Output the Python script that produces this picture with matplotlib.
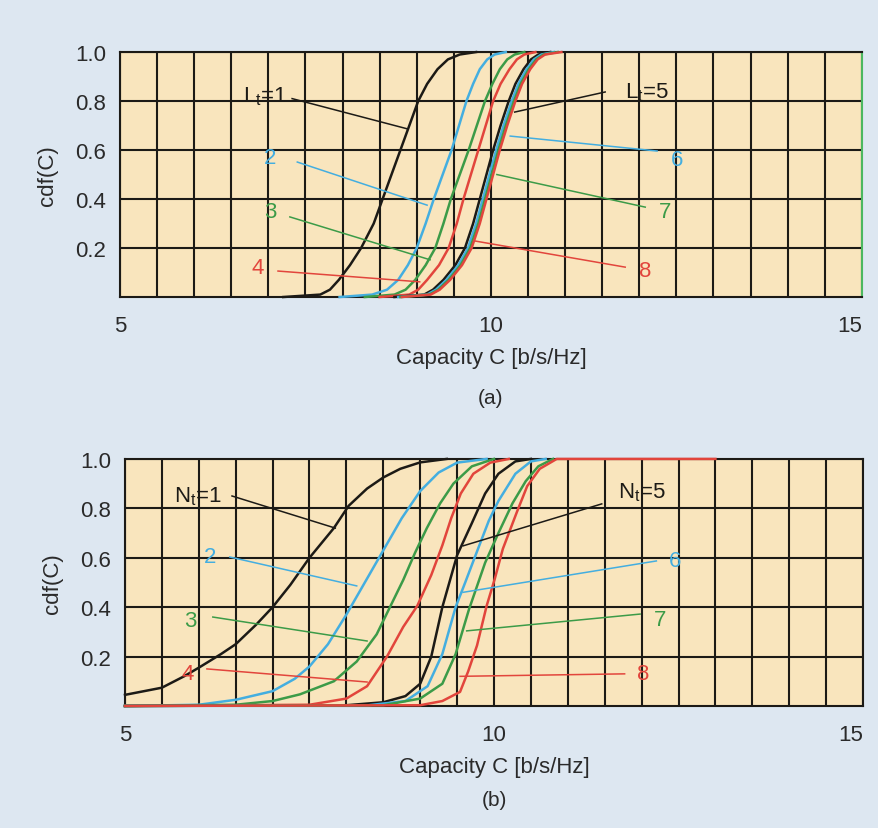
import matplotlib
matplotlib.use("Agg")
import matplotlib.pyplot as plt
import numpy as np

plt.rcParams['font.family'] = ['Liberation Sans', 'DejaVu Sans']
plt.rcParams['mathtext.fontset'] = 'custom'
plt.rcParams['mathtext.rm'] = 'Liberation Sans'

# couleurs des courbes
black = "#1c1a16"
cyan = "#44aee0"
green = "#3c9b48"
red = "#e2453c"

# ---- (a) : cdf pour L_t = 1..8, capacité lue à des niveaux de cdf communs
levels_a = [0, 0.01, 0.03, 0.07, 0.13, 0.2, 0.3, 0.4, 0.5, 0.6, 0.7, 0.8, 0.87, 0.93, 0.97, 0.99, 1.0]
lt1 = [7.2, 7.7, 7.83, 7.95, 8.1, 8.25, 8.42, 8.54, 8.66, 8.78, 8.9, 9.02, 9.14, 9.28, 9.42, 9.58, 9.8]
lt2 = [7.96, 8.4, 8.6, 8.75, 8.88, 9.0, 9.12, 9.23, 9.35, 9.47, 9.57, 9.67, 9.76, 9.85, 9.95, 10.05, 10.2]
lt3 = [8.3, 8.7, 8.85, 8.98, 9.12, 9.25, 9.36, 9.46, 9.58, 9.70, 9.81, 9.92, 10.02, 10.12, 10.22, 10.32, 10.45]
lt4 = [8.5, 8.9, 9.02, 9.14, 9.3, 9.43, 9.54, 9.63, 9.73, 9.83, 9.93, 10.03, 10.13, 10.25, 10.35, 10.45, 10.6]
lt5 = [8.7, 9.1, 9.22, 9.36, 9.52, 9.65, 9.76, 9.85, 9.94, 10.03, 10.13, 10.24, 10.33, 10.44, 10.54, 10.64, 10.8]
lt6 = [8.75, 9.14, 9.26, 9.4, 9.56, 9.69, 9.8, 9.89, 9.98, 10.07, 10.17, 10.28, 10.37, 10.48, 10.58, 10.68, 10.85]
lt7 = [8.78, 9.17, 9.29, 9.43, 9.59, 9.72, 9.83, 9.92, 10.01, 10.10, 10.20, 10.31, 10.40, 10.51, 10.61, 10.71, 10.9]
lt8 = [8.8, 9.19, 9.31, 9.45, 9.61, 9.74, 9.85, 9.94, 10.03, 10.12, 10.22, 10.33, 10.42, 10.53, 10.63, 10.73, 10.95]

# ---- (b) : cdf pour N_t = 1..8
nt1_c = [5.0, 5.5, 5.8, 6.0, 6.3, 6.5, 6.78, 7.0, 7.24, 7.5, 7.83, 8.03, 8.28, 8.5, 8.73, 9.0, 9.36]
nt1_p = [0.045, 0.074, 0.12, 0.155, 0.21, 0.25, 0.33, 0.40, 0.49, 0.60, 0.72, 0.81, 0.88, 0.925, 0.96, 0.986, 1.0]
nt2_c = [5.0, 6.0, 6.5, 7.0, 7.3, 7.5, 7.75, 8.0, 8.25, 8.5, 8.75, 9.0, 9.25, 9.5, 9.9]
nt2_p = [0.0, 0.005, 0.025, 0.06, 0.11, 0.16, 0.25, 0.37, 0.5, 0.63, 0.76, 0.87, 0.945, 0.985, 1.0]
nt3_c = [5.0, 6.5, 7.0, 7.37, 7.83, 8.14, 8.41, 8.59, 8.77, 8.93, 9.09, 9.27, 9.45, 9.7, 10.0]
nt3_p = [0.0, 0.005, 0.02, 0.047, 0.10, 0.18, 0.29, 0.40, 0.51, 0.62, 0.72, 0.82, 0.90, 0.97, 1.0]
nt4_c = [5.0, 7.5, 8.0, 8.28, 8.55, 8.77, 8.96, 9.15, 9.3, 9.42, 9.55, 9.72, 9.95, 10.2]
nt4_p = [0.0, 0.005, 0.03, 0.08, 0.2, 0.32, 0.405, 0.53, 0.65, 0.76, 0.86, 0.94, 0.985, 1.0]
nt5_c = [5.0, 8.0, 8.5, 8.8, 9.0, 9.15, 9.3, 9.5, 9.7, 9.88, 10.06, 10.29, 10.5]
nt5_p = [0.0, 0.003, 0.015, 0.04, 0.09, 0.2, 0.4, 0.61, 0.74, 0.86, 0.94, 0.99, 1.0]
nt6_c = [5.0, 8.3, 8.8, 9.1, 9.3, 9.48, 9.61, 9.75, 9.93, 10.06, 10.29, 10.5, 10.7]
nt6_p = [0.0, 0.003, 0.02, 0.08, 0.21, 0.40, 0.5, 0.61, 0.75, 0.83, 0.94, 0.99, 1.0]
nt7_c = [5.0, 8.5, 9.0, 9.3, 9.48, 9.66, 9.88, 10.06, 10.25, 10.43, 10.6, 10.8]
nt7_p = [0.0, 0.003, 0.03, 0.09, 0.21, 0.39, 0.58, 0.70, 0.82, 0.91, 0.97, 1.0]
nt8_c = [5.0, 9.0, 9.3, 9.54, 9.65, 9.77, 9.9, 10.01, 10.12, 10.31, 10.45, 10.62, 10.85, 13.0]
nt8_p = [0.0, 0.003, 0.02, 0.057, 0.14, 0.245, 0.405, 0.514, 0.636, 0.785, 0.89, 0.96, 1.0, 1.0]

colors = [black, cyan, green, red, black, cyan, green, red]

# étiquettes : texte, position du texte, début et fin du trait
labels_a = [r"L$_\mathrm{t}$=1", "2", "3", "4", r"L$_\mathrm{t}$=5", "6", "7", "8"]
text_a = [(6.95, 0.82), (7.02, 0.57), (7.02, 0.35), (6.86, 0.12), (12.1, 0.84), (12.51, 0.56), (12.35, 0.35), (12.08, 0.11)]
line_a = [((7.32, 0.81), (8.88, 0.686)), ((7.39, 0.551), (9.14, 0.375)), ((7.29, 0.327), (9.18, 0.152)),
          ((7.13, 0.106), (9.04, 0.062)), ((11.54, 0.837), (10.32, 0.755)), ((12.24, 0.596), (10.26, 0.657)),
          ((12.08, 0.367), (10.08, 0.50)), ((11.81, 0.122), (9.78, 0.229))]
labels_b = [r"N$_\mathrm{t}$=1", "2", "3", "4", r"N$_\mathrm{t}$=5", "6", "7", "8"]
text_b = [(5.99, 0.85), (6.15, 0.607), (5.88, 0.344), (5.85, 0.13), (12.0, 0.866), (12.45, 0.587), (12.25, 0.352), (12.02, 0.13)]
line_b = [((6.45, 0.85), (7.85, 0.72)), ((6.42, 0.603), (8.14, 0.486)), ((6.19, 0.36), (8.28, 0.263)),
          ((6.11, 0.15), (8.28, 0.097)), ((11.46, 0.818), (9.58, 0.648)), ((12.2, 0.587), (9.58, 0.46)),
          ((11.98, 0.372), (9.63, 0.304)), ((11.77, 0.13), (9.54, 0.12))]

fig = plt.figure(figsize=(8.79, 8.29), dpi=100, facecolor="#dde7f1")
ax_a = fig.add_axes([0.1365, 0.6405, 0.844, 0.2955])
ax_b = fig.add_axes([0.1422, 0.1472, 0.8396, 0.298])


def style_axes(ax):
    ax.set_facecolor("#f9e5bd")
    ax.set_xlim(5, 15)
    ax.set_ylim(0, 1)
    ax.set_xticks([5, 10, 15])
    ax.set_xticks(np.arange(5, 15.01, 0.5), minor=True)
    ax.set_yticks([0.2, 0.4, 0.6, 0.8, 1.0])
    ax.set_yticklabels(["0.2", "0.4", "0.6", "0.8", "1.0"])
    ax.grid(True, which="both", color="#1c1a16", linewidth=1.5)
    ax.set_axisbelow(True)
    ax.tick_params(which="both", length=0, labelsize=16, pad=10, labelcolor="#2a2a2a")
    ax.tick_params(axis="x", pad=13)
    ax.get_xticklabels()[-1].set_ha("right")
    for s in ax.spines.values():
        s.set_color("#1c1a16")
        s.set_linewidth(1.5)
    ax.set_xlabel("Capacity C [b/s/Hz]", fontsize=16, labelpad=8, color="#2a2a2a")
    ax.set_ylabel("cdf(C)", fontsize=16, labelpad=12, color="#2a2a2a")


style_axes(ax_a)
style_axes(ax_b)
ax_a.spines["right"].set_color("#4cb860")

# courbes (a)
for cap, col in zip([lt1, lt2, lt3, lt4, lt5, lt6, lt7, lt8], colors):
    ax_a.plot(cap, levels_a, color=col, linewidth=1.8, clip_on=False, zorder=3)

# courbes (b)
curves_b = [(nt1_c, nt1_p), (nt2_c, nt2_p), (nt3_c, nt3_p), (nt4_c, nt4_p),
            (nt5_c, nt5_p), (nt6_c, nt6_p), (nt7_c, nt7_p), (nt8_c, nt8_p)]
for (cap, p), col in zip(curves_b, colors):
    ax_b.plot(cap, p, color=col, linewidth=1.8, clip_on=False, zorder=3)

# étiquettes avec traits
for ax, labs, txt, lns in [(ax_a, labels_a, text_a, line_a), (ax_b, labels_b, text_b, line_b)]:
    for lab, (tx, ty), (p0, p1), col in zip(labs, txt, lns, colors):
        ax.text(tx, ty, lab, color=col, fontsize=16, ha="center", va="center", zorder=5)
        ax.plot([p0[0], p1[0]], [p0[1], p1[1]], color=col, linewidth=1.1, zorder=4)

ax_a.text(0.5, -0.41, "(a)", transform=ax_a.transAxes, ha="center", va="center", fontsize=15, color="#2a2a2a")
ax_b.text(0.5, -0.377, "(b)", transform=ax_b.transAxes, ha="center", va="center", fontsize=15, color="#2a2a2a")

fig.savefig("out.png", dpi=100, facecolor=fig.get_facecolor())
